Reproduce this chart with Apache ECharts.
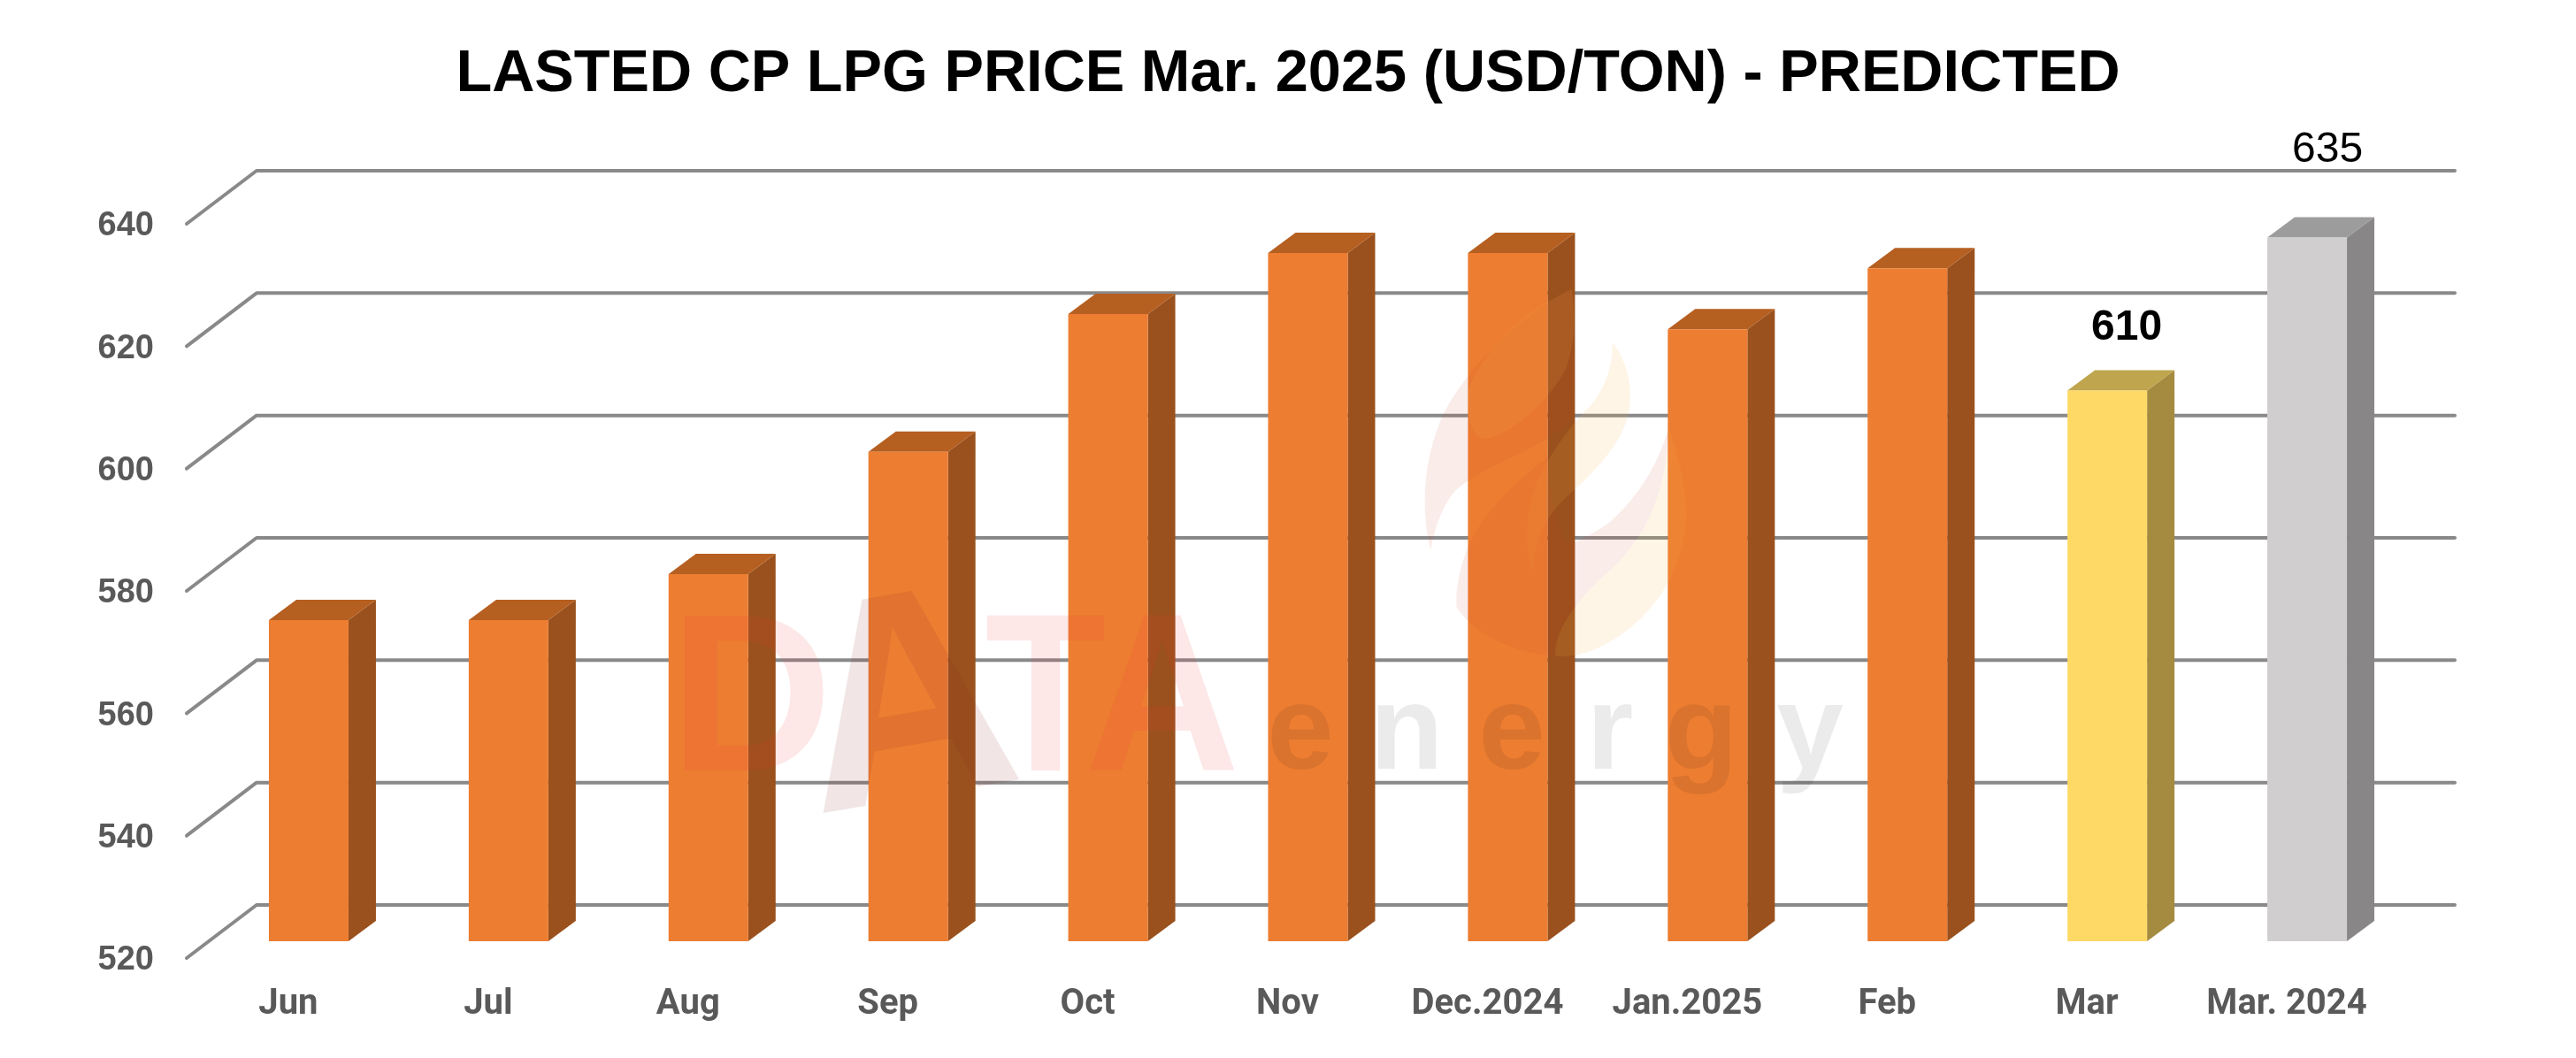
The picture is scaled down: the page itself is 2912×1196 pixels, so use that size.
<!DOCTYPE html>
<html>
<head>
<meta charset="utf-8">
<style>html,body{margin:0;padding:0;background:#fff}#c{width:2912px;height:1196px}</style>
<script src="https://cdn.jsdelivr.net/npm/echarts@6/dist/echarts.min.js"></script>
</head>
<body>
<div id="c"></div>
<script>
const titleText = 'LASTED CP LPG PRICE Mar. 2025 (USD/TON) - PREDICTED';
const categories = ['Jun','Jul','Aug','Sep','Oct','Nov','Dec.2024','Jan.2025','Feb','Mar','Mar. 2024'];
const values = [572.5,572.5,580,600,622.5,632.5,632.5,620,630,610,635];
const yTicks = [520,540,560,580,600,620,640];
const labelledCategories = ['Mar','Mar. 2024'];
const watermarkWord = ['D','T','A'];
const watermarkSub = ['e','n','e','r','g','y'];

const faces = {
  past:   {front:'#ED7D31', side:'#9A511D', top:'#B55F21'},
  latest: {front:'#FFD966', side:'#A48B3F', top:'#BFA54D'},
  yearAgo:{front:'#D0CECE', side:'#888686', top:'#9C9C9C'}
};
const faceOf = c => c === 'Mar' ? faces.latest : c === 'Mar. 2024' ? faces.yearAgo : faces.past;

// depth of the drawing, in pixels
const barDepth = {dx:31, dy:23};
const floor = {frontDx:-25, frontDy:19, backDx:54, backDy:-41, rightDx:54};
const barRatio = 90/225.9;

function renderGridLine(params, api){
  const cs = params.coordSys;
  const y = api.coord([0, api.value(1)])[1];
  return {type:'polyline', silent:true,
    shape:{points:[[cs.x+floor.frontDx, y+floor.frontDy],[cs.x+floor.backDx, y+floor.backDy],[cs.x+cs.width+floor.rightDx, y+floor.backDy]]},
    style:{stroke:'#898989', lineWidth:4, fill:null, lineCap:'round', lineJoin:'round'}};
}
function renderBar(params, api){
  const i = api.value(0), p = api.coord([i, api.value(1)]), base = api.coord([i, 520]);
  const w = api.size([1,0])[0]*barRatio, l = p[0]-w/2, r = p[0]+w/2, t = p[1], b = base[1];
  const f = faceOf(categories[i]), dx = barDepth.dx, dy = barDepth.dy;
  return {type:'group', children:[
    {type:'polygon', shape:{points:[[r,t],[r+dx,t-dy],[r+dx,b-dy],[r,b]]}, style:{fill:f.side}},
    {type:'polygon', shape:{points:[[l,t],[l+dx,t-dy],[r+dx,t-dy],[r,t]]}, style:{fill:f.top}},
    {type:'rect', shape:{x:l,y:t,width:w,height:b-t}, style:{fill:f.front}}
  ]};
}
function renderValueLabel(params, api){
  const i = api.value(0), p = api.coord([i, api.value(1)]);
  const latest = categories[i] === 'Mar';
  return {type:'text', style:{
    text:String(api.value(1)), x:p[0]+(latest?22:23), y:p[1]-(latest?71:99),
    align:'center', verticalAlign:'middle', fill:'#000',
    font:(latest?'bold ':'')+'48px "Liberation Sans"'}};
}

// faint logo laid over the chart
const letter = (t, fs, x, y, fill, extra) => Object.assign({type:'text', x, y,
  style:{text:t, font:'bold '+fs+'px "Liberation Sans"', fill, align:'center', verticalAlign:'middle'}}, extra||{});
const flame = (d, fill) => ({type:'path', x:1590, y:340, scaleX:1/3, scaleY:1/3, shape:{pathData:d}, style:{fill}});
const PINK='rgba(205,70,40,0.10)', CREAM='rgba(250,175,70,0.13)';
const RED='rgba(240,60,60,0.12)', GREY='rgba(0,0,0,0.08)';
const subX=[1470,1590,1709,1820,1923,2046];
function renderWatermark(){
  return {type:'group', children:[
    flame('M82,845 C50,720 55,560 110,420 C160,290 330,80 560,-40 C570,100 570,300 565,385 C530,440 480,470 400,510 C320,550 220,590 160,650 C120,700 95,770 82,845 Z', PINK),
    flame('M210,300 C200,380 215,450 260,467 C330,470 480,350 540,230 C570,150 575,60 560,-40 C480,0 300,90 210,300 Z', CREAM),
    flame('M698,140 C745,200 770,290 755,370 C740,470 650,570 560,650 C490,710 430,790 428,920 C400,840 400,720 445,610 C490,510 560,420 620,360 C670,300 700,230 698,140 Z', CREAM),
    flame('M890,430 C850,560 790,660 690,750 C650,780 610,800 570,820 C520,850 480,640 480,530 C400,590 280,690 215,820 C180,900 165,980 170,1040 C230,1130 350,1190 505,1205 C500,1120 570,1030 650,950 C760,860 880,720 890,430 Z', PINK),
    flame('M890,430 C930,550 960,680 945,780 C920,950 820,1080 700,1150 C630,1195 560,1210 505,1205 C500,1120 570,1030 650,950 C760,860 880,720 890,430 Z', CREAM),
    letter(watermarkWord[0], 255, 849, 801, RED),
    letter(watermarkWord[1], 255, 1182, 801, RED, {scaleX:0.88}),
    letter(watermarkWord[2], 255, 1314, 801, RED, {scaleX:0.95}),
    letter('A', 335, 1026, 809, 'rgba(140,40,40,0.12)', {rotation:0.17})
  ].concat(watermarkSub.map((t,i)=>letter(t, 136, subX[i], 831, GREY)))};
}

const chart = echarts.init(document.getElementById('c'), null, {renderer:'canvas'});
chart.setOption({
  animation:false,
  backgroundColor:'#fff',
  title:{text:titleText, left:'center', top:46,
    textStyle:{fontFamily:'Liberation Sans', fontWeight:'bold', fontSize:66.7, color:'#000'}},
  grid:{left:236, right:191, top:234, bottom:132},
  xAxis:{type:'category', data:categories,
    axisLine:{show:false}, axisTick:{show:false}, splitLine:{show:false},
    axisLabel:{interval:0, margin:52, padding:[0,46,0,0], color:'#595959',
      fontFamily:'Roboto', fontWeight:'bold', fontSize:40}},
  yAxis:{type:'value', min:520, max:640, interval:20,
    axisLine:{show:false}, axisTick:{show:false}, splitLine:{show:false},
    axisLabel:{margin:62, verticalAlign:'top', lineHeight:44, color:'#595959',
      fontFamily:'Liberation Sans', fontWeight:'bold', fontSize:38}},
  series:[
    {name:'grid', type:'custom', coordinateSystem:'cartesian2d', z:1, silent:true,
     renderItem:renderGridLine, encode:{x:0,y:1}, data:yTicks.map(v=>[0,v])},
    {name:'CP LPG price', type:'custom', coordinateSystem:'cartesian2d', z:2, silent:true,
     renderItem:renderBar, encode:{x:0,y:1}, data:values.map((v,i)=>[i,v])},
    {name:'labels', type:'custom', coordinateSystem:'cartesian2d', z:3, silent:true,
     renderItem:renderValueLabel, encode:{x:0,y:1},
     data:labelledCategories.map(c=>[categories.indexOf(c), values[categories.indexOf(c)]])},
    {name:'logo', type:'custom', coordinateSystem:'cartesian2d', z:10, silent:true,
     renderItem:renderWatermark, encode:{x:0,y:1}, data:[[0,520]]}
  ]
});
</script>
</body>
</html>
